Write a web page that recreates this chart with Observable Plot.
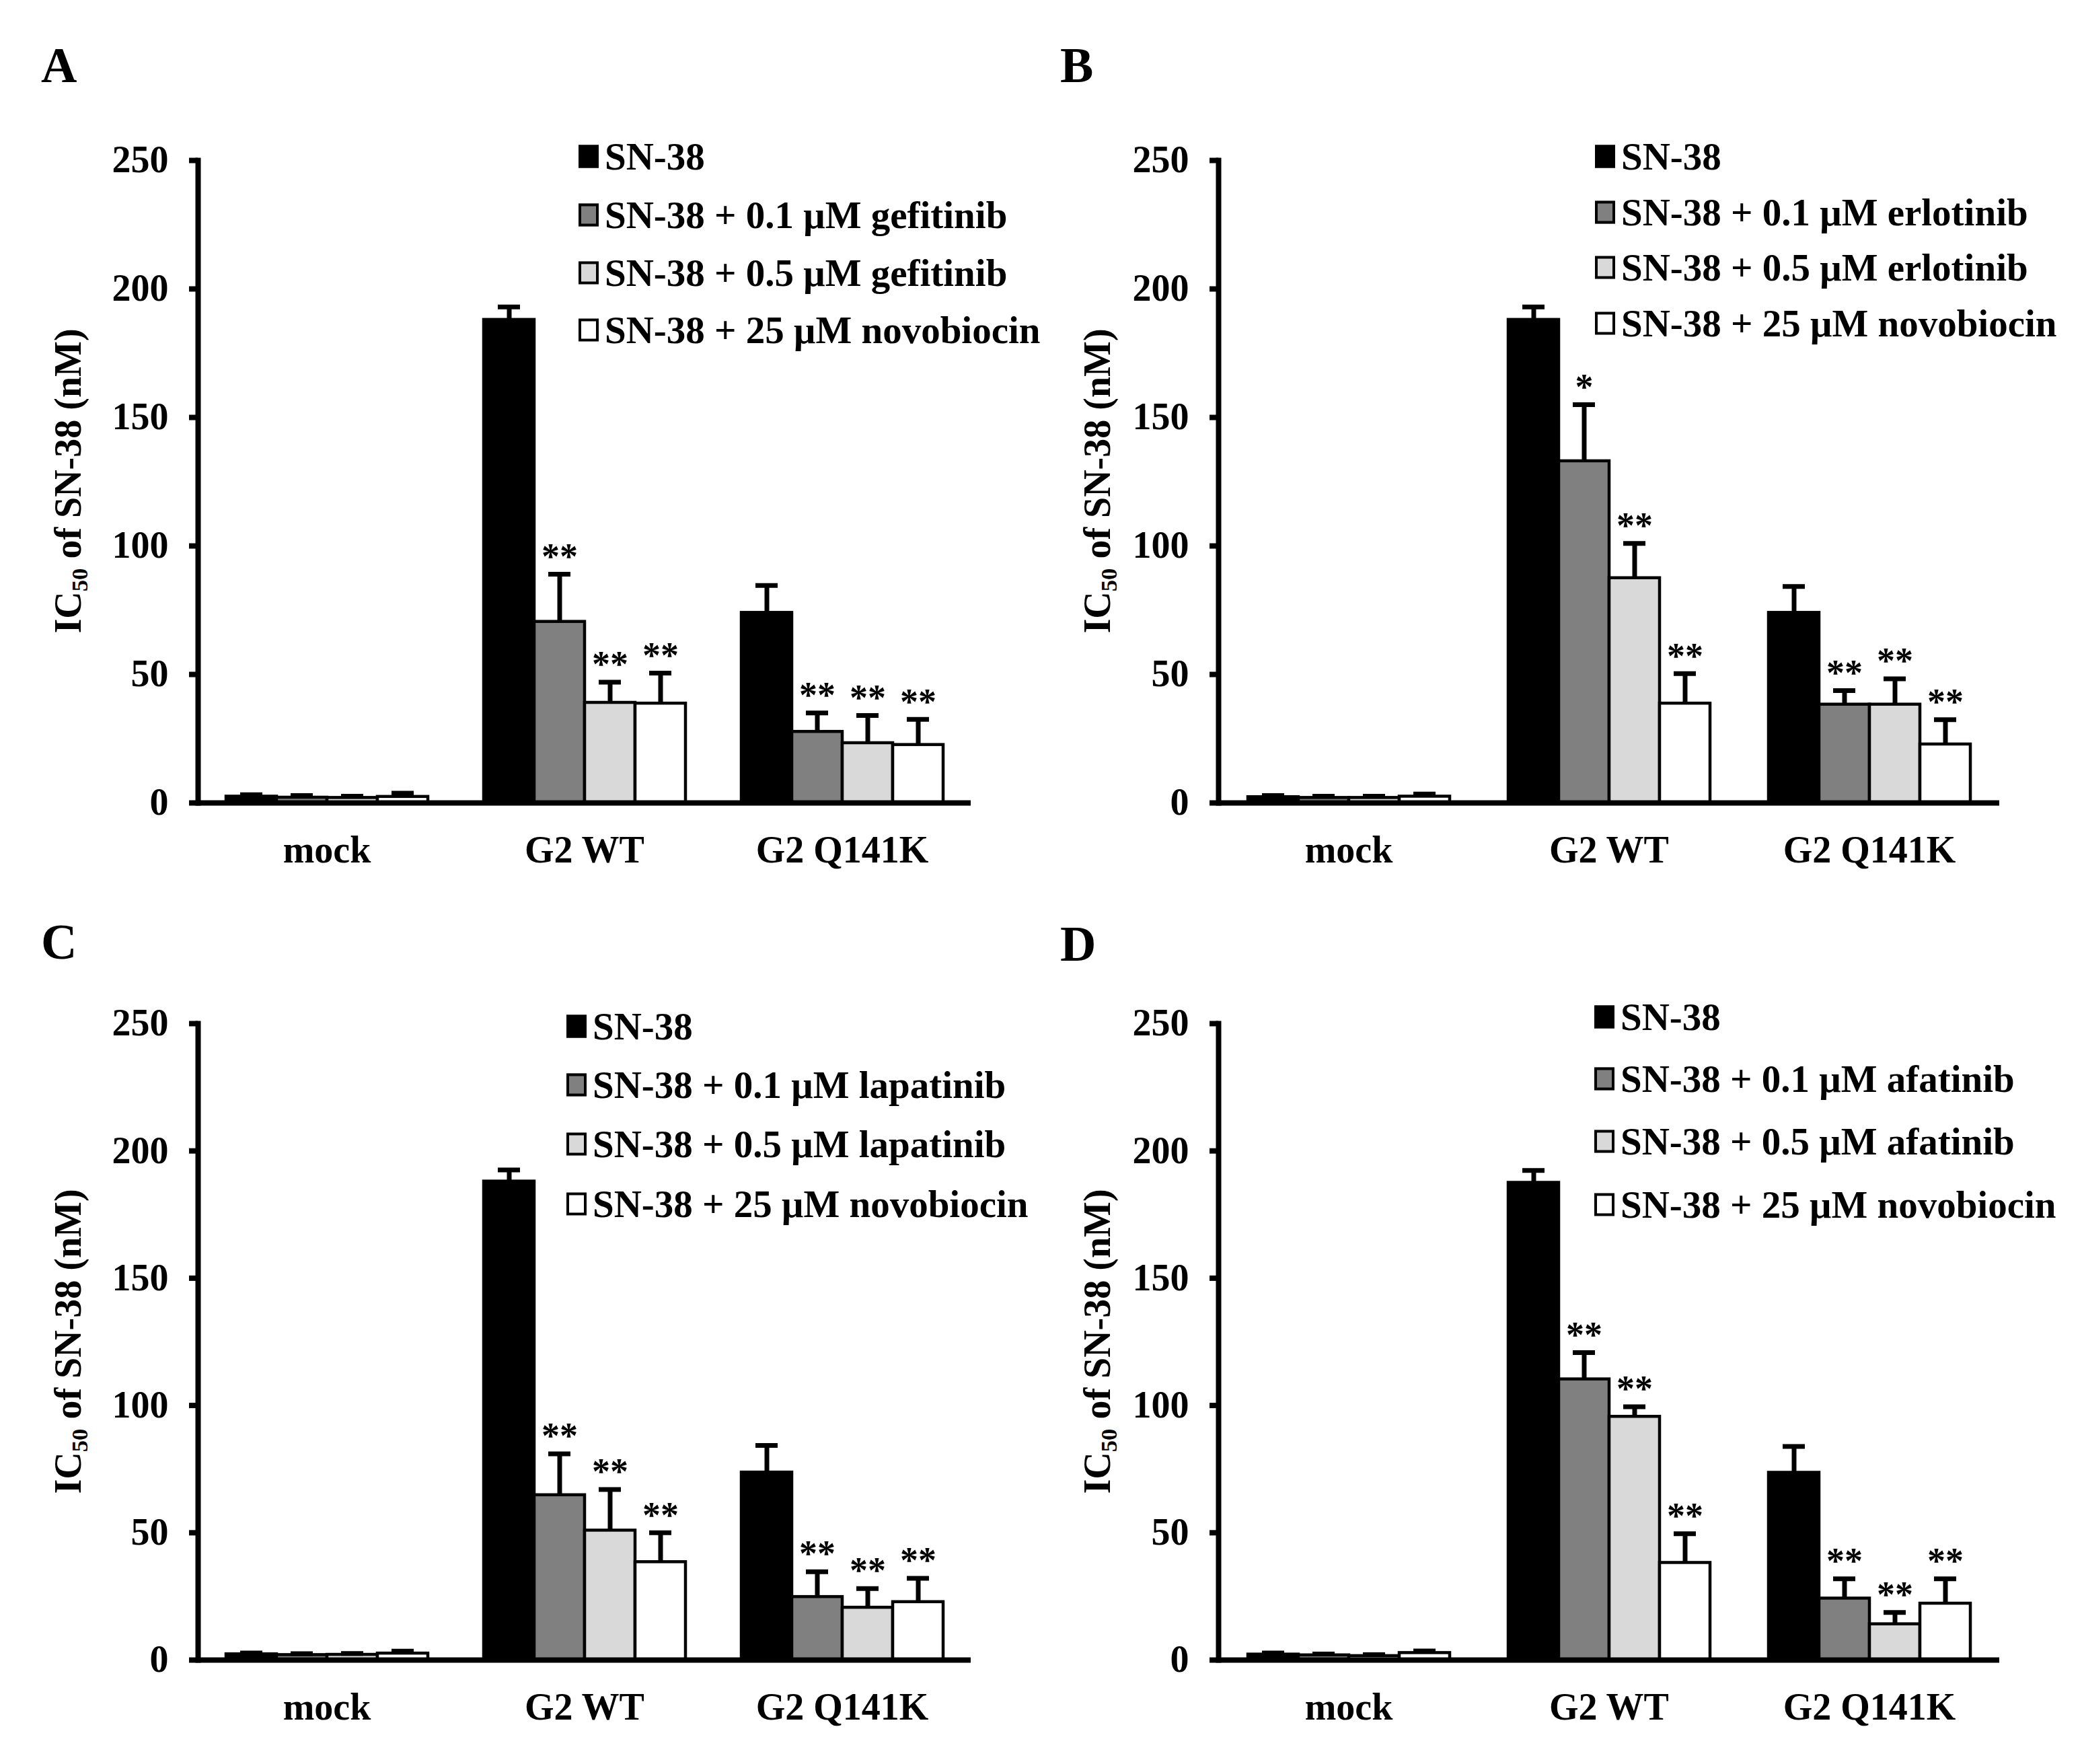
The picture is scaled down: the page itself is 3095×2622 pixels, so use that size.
<!DOCTYPE html>
<html>
<head>
<meta charset="utf-8">
<script src="https://cdn.jsdelivr.net/npm/d3@7"></script>
<script src="https://cdn.jsdelivr.net/npm/@observablehq/plot@0.6"></script>
<style>
  body { margin: 0; background: #fff; }
  #figure { position: relative; width: 3095px; height: 2622px; font-family: "Liberation Serif", "Times New Roman", serif; font-weight: bold; color: #000; }
  .panel { position: absolute; }
  .panel svg { position: absolute; left: 0; top: 0; }
  .letter { position: absolute; font-size: 74px; line-height: 1; }
  .ytitle { position: absolute; font-size: 56px; line-height: 1; white-space: nowrap; transform: translate(-50%, -50%) rotate(-90deg); }
  .ytitle sub { font-size: 0.62em; vertical-align: -0.3em; line-height: 0; }
  .legend-row { position: absolute; display: flex; align-items: center; font-size: 57px; line-height: 1; white-space: nowrap; transform: translateY(-50%); }
  .swatch { width: 30px; height: 34px; border: 4px solid #000; box-sizing: border-box; margin-right: 9px; }
</style>
</head>
<body>
<div id="figure"></div>
<script>
const groups = ["mock", "G2 WT", "G2 Q141K"];
const treatments = ["SN-38", "low", "high", "novobiocin"];
const drugs = ["gefitinib", "erlotinib", "lapatinib", "afatinib"];
const letters = ["A", "B", "C", "D"];
const yTicks = [0, 50, 100, 150, 200, 250];

// one row per group (mock, G2 WT, G2 Q141K), one column per treatment
const meansA = [[2.5, 2.1, 2.0, 2.4], [188, 70.5, 39, 38.7], [74, 27.7, 23.3, 22.6]];
const errorsA = [[0.7, 0.8, 0.6, 1.4], [5, 18.5, 8, 11.8], [10.6, 7.3, 10.7, 9.9]];
const starsA = [["", "", "", ""], ["", "**", "**", "**"], ["", "**", "**", "**"]];

const meansB = [[2.3, 2.0, 2.0, 2.5], [188, 133, 87.5, 38.7], [74, 38.3, 38.3, 22.8]];
const errorsB = [[0.6, 0.6, 0.6, 1.0], [5, 22, 13.5, 11.6], [10.2, 5.4, 10, 9.6]];
const starsB = [["", "", "", ""], ["", "*", "**", "**"], ["", "**", "**", "**"]];

const meansC = [[2.3, 2.0, 2.1, 2.6], [188, 64.8, 50.9, 38.5], [73.7, 24.8, 20.6, 22.8]];
const errorsC = [[0.5, 0.5, 0.5, 0.9], [4.5, 16.2, 16.1, 11.5], [10.6, 9.9, 7.5, 9.3]];
const starsC = [["", "", "", ""], ["", "**", "**", "**"], ["", "**", "**", "**"]];

const meansD = [[2.2, 1.9, 1.6, 2.8], [187.5, 110.3, 95.6, 38.2], [73.6, 24.2, 14.1, 22.2]];
const errorsD = [[0.6, 0.5, 0.5, 0.8], [4.8, 10.5, 3.9, 11.4], [10.3, 7.7, 4.6, 9.7]];
const starsD = [["", "", "", ""], ["", "**", "**", "**"], ["", "**", "**", "**"]];

const panelData = [
  [meansA, errorsA, starsA],
  [meansB, errorsB, starsB],
  [meansC, errorsC, starsC],
  [meansD, errorsD, starsD]
];

// page layout of the four panels (pixels)
const layout = [
  {left: 0, top: 0, w: 1548, h: 1311, m: [238, 105, 118, 293], letter: [61, 60], title: [101, 715], legend: [860, [232, 319, 405, 490]]},
  {left: 1548, top: 0, w: 1547, h: 1311, m: [238, 122, 118, 262], letter: [28, 60], title: [83, 715], legend: [823, [232, 315, 397, 480]]},
  {left: 0, top: 1311, w: 1548, h: 1311, m: [210, 105, 155, 293], letter: [61, 52], title: [101, 683], legend: [842, [214, 301, 389, 478]]},
  {left: 1548, top: 1311, w: 1547, h: 1311, m: [210, 122, 155, 262], letter: [28, 55], title: [83, 683], legend: [822, [200, 292, 385, 479]]}
];

function legendLabels(drug) {
  return ["SN-38", `SN-38 + 0.1 μM ${drug}`, `SN-38 + 0.5 μM ${drug}`, "SN-38 + 25 μM novobiocin"];
}

function drawPanel(k) {
  const [means, errors, stars] = panelData[k];
  const L = layout[k];
  const rows = [];
  groups.forEach((g, i) => treatments.forEach((t, j) => {
    rows.push({group: g, treatment: t, mean: means[i][j], top: means[i][j] + errors[i][j], star: stars[i][j]});
  }));

  const chart = Plot.plot({
    width: L.w,
    height: L.h,
    marginTop: L.m[0],
    marginRight: L.m[1],
    marginBottom: L.m[2],
    marginLeft: L.m[3],
    style: {fontFamily: "'Liberation Serif', 'Times New Roman', serif", fontSize: "56px", fontWeight: "bold", color: "black", background: "transparent"},
    fx: {domain: groups, padding: 0},
    x: {domain: treatments, paddingInner: 0, paddingOuter: 0.553, axis: null},
    y: {domain: [0, 250]},
    color: {domain: treatments, range: ["#000000", "#808080", "#d9d9d9", "#ffffff"]},
    marks: [
      Plot.barY(rows, {fx: "group", x: "treatment", y: "mean", fill: "treatment", stroke: "black", strokeWidth: 4.5}),
      Plot.ruleX(rows, {fx: "group", x: "treatment", y1: "mean", y2: "top", strokeWidth: 7}),
      Plot.tickY(rows, {fx: "group", x: "treatment", y: "top", strokeWidth: 7, insetLeft: 21, insetRight: 21}),
      Plot.text(rows, {fx: "group", x: "treatment", y: "top", text: "star", dy: -26, fontSize: 54, fontWeight: "bold"}),
      Plot.ruleY([0], {strokeWidth: 8}),
      Plot.frame({anchor: "left", facetAnchor: "left", strokeWidth: 8}),
      Plot.axisY(yTicks, {tickSize: 13, tickPadding: 31, strokeWidth: 8, label: null}),
      Plot.axisFx({anchor: "bottom", tickSize: 0, tickPadding: 49, label: null})
    ]
  });

  const panel = d3.select("#figure").append("div")
    .attr("class", "panel")
    .style("left", L.left + "px").style("top", L.top + "px")
    .style("width", L.w + "px").style("height", L.h + "px");
  panel.append(() => chart);

  panel.append("div").attr("class", "letter")
    .style("left", L.letter[0] + "px").style("top", L.letter[1] + "px")
    .text(letters[k]);

  panel.append("div").attr("class", "ytitle")
    .style("left", L.title[0] + "px").style("top", L.title[1] + "px")
    .html("IC<sub>50</sub> of SN-38 (nM)");

  const labels = legendLabels(drugs[k]);
  labels.forEach((label, j) => {
    const row = panel.append("div").attr("class", "legend-row")
      .style("left", L.legend[0] + "px").style("top", L.legend[1][j] + "px");
    row.append("span").attr("class", "swatch").style("background", chart.scale("color").apply(treatments[j]));
    row.append("span").text(label);
  });
}

letters.forEach((_, k) => drawPanel(k));
</script>
</body>
</html>
